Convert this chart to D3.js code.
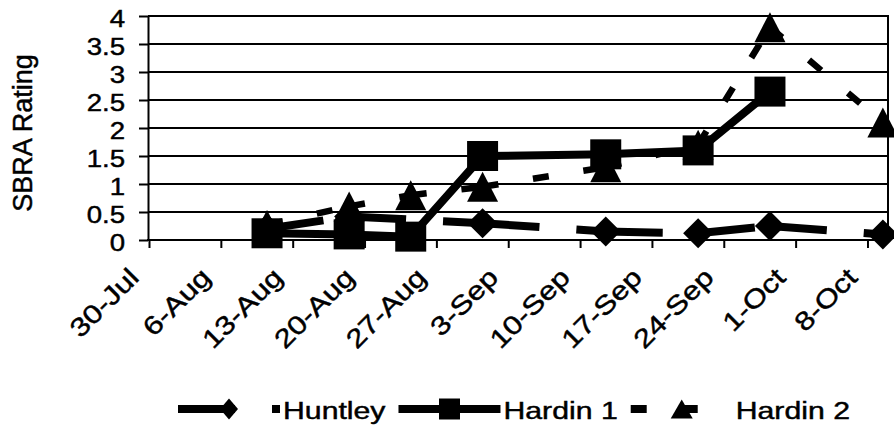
<!DOCTYPE html>
<html>
<head>
<meta charset="utf-8">
<script src="https://cdn.jsdelivr.net/npm/d3@7"></script>
<style>
  html, body { margin: 0; padding: 0; background: #fff; }
  svg { display: block; }
  text { font-family: "Liberation Sans", Arial, Helvetica, sans-serif; fill: #000; stroke: #000; stroke-width: 0.45px; }
</style>
</head>
<body>
<script>
// ---- data ----
const tickLabels = ["30-Jul","6-Aug","13-Aug","20-Aug","27-Aug","3-Sep","10-Sep","17-Sep","24-Sep","1-Oct","8-Oct"];
const yTicks = [0, 0.5, 1, 1.5, 2, 2.5, 3, 3.5, 4];
const yTickLabels = ["0","0.5","1","1.5","2","2.5","3","3.5","4"];

const huntleyDates  = ["10-Aug","18-Aug","31-Aug","12-Sep","21-Sep","28-Sep","9-Oct"];
const huntleyValues = [0.2, 0.42, 0.3, 0.15, 0.12, 0.25, 0.1];

const hardin1Dates  = ["10-Aug","18-Aug","24-Aug","31-Aug","12-Sep","21-Sep","28-Sep"];
const hardin1Values = [0.12, 0.1, 0.06, 1.5, 1.53, 1.6, 2.65];

const hardin2Dates  = ["10-Aug","18-Aug","24-Aug","31-Aug","12-Sep","21-Sep","28-Sep","9-Oct"];
const hardin2Values = [0.27, 0.6, 0.8, 0.95, 1.3, 1.7, 3.8, 2.1];

const seriesNames = ["Huntley", "Hardin 1", "Hardin 2"];
const yTitle = "SBRA Rating";

// ---- setup ----
const W = 894, H = 427;
const parse = d3.utcParse("%d-%b-%Y");
const toDate = s => parse(s + "-2001");
const mid = s => d3.utcHour.offset(toDate(s), 12);

const svg = d3.select("body").append("svg").attr("width", W).attr("height", H);
svg.append("rect").attr("width", W).attr("height", H).attr("fill", "#fff");

const x = d3.scaleUtc().domain([toDate("30-Jul"), toDate("10-Oct")]).range([149, 888]);
const y = d3.scaleLinear().domain([0, 4]).range([240, 16]);

// gridlines
svg.append("g").selectAll("line").data(yTicks.slice(1)).join("line")
  .attr("x1", 148).attr("x2", 888)
  .attr("y1", d => y(d)).attr("y2", d => y(d))
  .attr("stroke", "#000").attr("stroke-width", 2);

// right border
svg.append("line").attr("x1", 888).attr("x2", 888).attr("y1", y(4) - 1).attr("y2", y(0))
  .attr("stroke", "#000").attr("stroke-width", 2);

// y axis
const yAxis = svg.append("g").attr("transform", "translate(148,0)")
  .call(d3.axisLeft(y).tickValues(yTicks).tickSize(9).tickSizeOuter(0)
    .tickFormat((d, i) => yTickLabels[i]));
yAxis.select(".domain").attr("stroke", "#000").attr("stroke-width", 2);
yAxis.selectAll(".tick line").attr("stroke", "#000").attr("stroke-width", 2);
yAxis.selectAll(".tick text")
  .attr("x", null).attr("dy", null)
  .attr("font-size", 24)
  .attr("text-anchor", "end")
  .attr("transform", "translate(-23,10.5) scale(1.15,1)");

// x axis
const tickDates = tickLabels.map(s => toDate(s));
const xAxis = svg.append("g").attr("transform", "translate(0,240)")
  .call(d3.axisBottom(x).tickValues(tickDates).tickSize(8).tickSizeOuter(0)
    .tickFormat((d, i) => tickLabels[i]));
xAxis.select(".domain").attr("stroke", "#000").attr("stroke-width", 2)
  .attr("d", "M147,0H888");
xAxis.selectAll(".tick line").attr("stroke", "#000").attr("stroke-width", 2);
xAxis.selectAll(".tick text")
  .attr("y", null).attr("dy", null)
  .attr("font-size", 26)
  .attr("text-anchor", "end")
  .attr("transform", "translate(-9,39) rotate(-45) scale(1.2,1)");

// y title
svg.append("text").text(yTitle)
  .attr("font-size", 27)
  .attr("text-anchor", "middle")
  .attr("transform", "translate(32,133) rotate(-90)");

// ---- series ----
const markerPath = {
  diamond: (w, h) => `M0,${-h / 2}L${w / 2},0L0,${h / 2}L${-w / 2},0Z`,
  square: (w, h) => `M${-w / 2},${-h / 2}H${w / 2}V${h / 2}H${-w / 2}Z`,
  triangle: (w, h) => `M0,${-h / 2}L${w / 2},${h / 2}L${-w / 2},${h / 2}Z`
};

const series = [
  { name: seriesNames[0], dates: huntleyDates, values: huntleyValues, dash: "57,37", width: 8, marker: "diamond", mw: 30, mh: 30, lw: 18, lh: 21 },
  { name: seriesNames[1], dates: hardin1Dates, values: hardin1Values, dash: null, width: 8, marker: "square", mw: 31, mh: 30, lw: 21, lh: 21 },
  { name: seriesNames[2], dates: hardin2Dates, values: hardin2Values, dash: "16,35", width: 6.5, marker: "triangle", mw: 31, mh: 30, lw: 22, lh: 19 }
];

const line = d3.line().x(d => x(d.date)).y(d => y(d.value));

series.forEach(s => {
  const pts = s.dates.map((d, i) => ({ date: mid(d), value: s.values[i] }));
  const g = svg.append("g");
  if (s.dash) {
    // Dash pattern restarts at each vertex
    g.selectAll("path.seg").data(d3.pairs(pts)).join("path")
      .attr("class", "seg")
      .attr("d", p => line(p))
      .attr("fill", "none").attr("stroke", "#000")
      .attr("stroke-width", s.width)
      .attr("stroke-dasharray", s.dash);
  } else {
    g.append("path").attr("d", line(pts))
      .attr("fill", "none").attr("stroke", "#000")
      .attr("stroke-width", s.width)
      .attr("stroke-linejoin", "round");
  }
  g.selectAll("path.mk").data(pts).join("path")
    .attr("class", "mk")
    .attr("d", markerPath[s.marker](s.mw, s.mh))
    .attr("transform", d => `translate(${x(d.date)},${y(d.value)})`)
    .attr("fill", "#000");
});

// ---- legend ----
const legend = svg.append("g");
let lx = 178;
const ly = 409;
const sampleLen = 102;
const textScale = 1.26;
series.forEach(s => {
  const g = legend.append("g");
  g.append("line")
    .attr("x1", lx).attr("x2", lx + sampleLen).attr("y1", ly).attr("y2", ly)
    .attr("stroke", "#000").attr("stroke-width", 8)
    .attr("stroke-dasharray", s.dash);
  g.append("path")
    .attr("d", markerPath[s.marker](s.lw, s.lh))
    .attr("transform", `translate(${lx + sampleLen / 2},${ly})`)
    .attr("fill", "#000");
  const tx = lx + sampleLen + 3;
  const t = g.append("text").text(s.name)
    .attr("font-size", 24)
    .attr("transform", `translate(${tx},${ly + 10}) scale(${textScale},1)`);
  const tw = t.node().getComputedTextLength() * textScale;
  lx = tx + tw + 13;
});
</script>
</body>
</html>
